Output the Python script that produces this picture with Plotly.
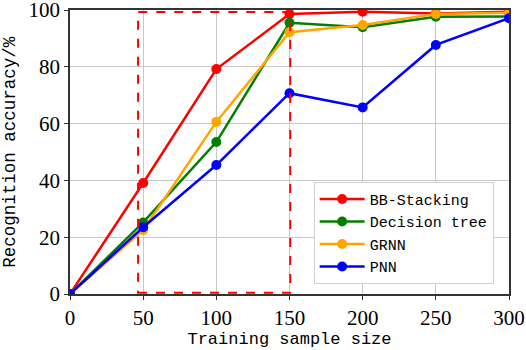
import plotly.graph_objects as go

sizes = [0, 50, 100, 150, 200, 250, 300]
bb_stacking = [0, 39.1, 79.2, 98.6, 99.4, 98.8, 99.4]
decision_tree = [0, 25.2, 53.5, 95.5, 93.9, 97.6, 97.7]
grnn = [0, 22.5, 60.6, 92.2, 94.7, 98.6, 99.0]
pnn = [0, 23.5, 45.4, 70.7, 65.7, 87.7, 97.1]

series_names = ["BB-Stacking", "Decision tree", "GRNN", "PNN"]
series_values = [bb_stacking, decision_tree, grnn, pnn]
series_colors = ["#ff0000", "#008000", "#ffa500", "#0000ff"]

x_ticks = [0, 50, 100, 150, 200, 250, 300]
y_ticks = [0, 20, 40, 60, 80, 100]

rect_x = [46.5, 150.5]
rect_y = [0.4, 99.3]

fig = go.Figure()
for name, vals, col in zip(series_names, series_values, series_colors):
    fig.add_trace(go.Scatter(
        x=sizes, y=vals, name=name, mode="lines+markers",
        line=dict(color=col, width=2.5),
        marker=dict(color=col, size=10),
    ))

fig.add_shape(type="rect", xref="x", yref="y",
              x0=rect_x[0], x1=rect_x[1], y0=rect_y[0], y1=rect_y[1],
              line=dict(color="#ff0000", width=2, dash="dash"))

axis_common = dict(
    showline=True, linecolor="#333333", linewidth=1.5, mirror=True,
    showgrid=True, gridcolor="#c8c8c8", gridwidth=1,
    ticks="outside", ticklen=4, tickcolor="#333333",
    tickfont=dict(family="Liberation Serif", size=21, color="black"),
    zeroline=False, automargin=False, ticklabeloverflow="allow",
)

fig.add_annotation(text="Recognition accuracy/%", xref="paper", yref="paper",
                   x=-0.137, y=0.5, textangle=-90, showarrow=False,
                   xanchor="center", yanchor="middle",
                   font=dict(family="Liberation Mono", size=17.5, color="black"))

fig.update_layout(
    width=526, height=350,
    margin=dict(l=70, r=17, t=10, b=56),
    plot_bgcolor="white", paper_bgcolor="white",
    xaxis=dict(range=[0, 300], tickvals=x_ticks,
               title=dict(text="Training sample size", standoff=2,
                          font=dict(family="Liberation Mono", size=17, color="black")),
               **axis_common),
    yaxis=dict(range=[0, 100], tickvals=y_ticks, **axis_common),
    legend=dict(x=0.555, y=0.395, xanchor="left", yanchor="top",
                bgcolor="white", bordercolor="#d0d0d0", borderwidth=1,
                font=dict(family="Liberation Mono", size=15, color="black"),
                tracegroupgap=0, itemwidth=45),
    showlegend=True,
)

fig.write_html("out.html", config={"displayModeBar": False},
               post_script="document.body.style.margin='0';")
